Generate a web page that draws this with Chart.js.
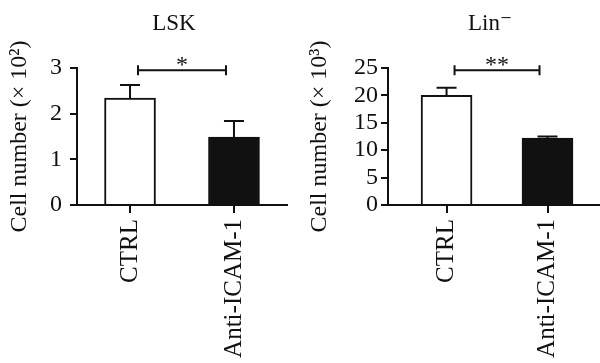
<!DOCTYPE html>
<html>
<head>
<meta charset="utf-8">
<script src="https://cdn.jsdelivr.net/npm/chart.js@4.4.1/dist/chart.umd.min.js"></script>
<style>
  html, body { margin: 0; padding: 0; background: #fff; overflow: hidden; }
  .panel { position: absolute; top: 0; width: 300px; height: 363px; }
  #left { left: 0; }
  #right { left: 300px; }
</style>
</head>
<body>
<div class="panel" id="left"><canvas id="lskChart"></canvas></div>
<div class="panel" id="right"><canvas id="linChart"></canvas></div>
<script>
const categories = ['CTRL', 'Anti-ICAM-1'];

const lskMeans = [2.34, 1.49];
const lskErrors = [0.29, 0.35];
const lskTicks = [0, 1, 2, 3];
const lskBracket = 2.95;
const lskStars = '*';

const linMeans = [20.0, 12.2];
const linErrors = [1.4, 0.3];
const linTicks = [0, 5, 10, 15, 20, 25];
const linBracket = 24.6;
const linStars = '**';

const ink = '#111';
const serif = "'Liberation Serif', 'DejaVu Serif', serif";

const isCategory = (v) => Number.isInteger(v) && v >= 0 && v < categories.length;

// error bars, significance bracket and panel title
const markers = {
    id: 'markers',
    afterDatasetsDraw(chart, args, opts) {
        const { ctx, scales: { x, y }, chartArea } = chart;
        ctx.save();
        ctx.strokeStyle = ink;
        ctx.lineWidth = 2;

        opts.means.forEach((m, i) => {
            const px = x.getPixelForValue(i);
            const y0 = y.getPixelForValue(m);
            const y1 = y.getPixelForValue(m + opts.errors[i]);
            ctx.beginPath();
            ctx.moveTo(px, y0);
            ctx.lineTo(px, y1);
            ctx.moveTo(px - 10, y1);
            ctx.lineTo(px + 10, y1);
            ctx.stroke();
        });

        const bx0 = x.getPixelForValue(0) + 8;
        const bx1 = x.getPixelForValue(1) - 8;
        const by = y.getPixelForValue(opts.bracket);
        ctx.beginPath();
        ctx.moveTo(bx0, by);
        ctx.lineTo(bx1, by);
        ctx.moveTo(bx0, by - 5);
        ctx.lineTo(bx0, by + 5);
        ctx.moveTo(bx1, by - 5);
        ctx.lineTo(bx1, by + 5);
        ctx.stroke();

        ctx.fillStyle = ink;
        ctx.textAlign = 'center';
        ctx.textBaseline = 'alphabetic';
        ctx.font = '24px ' + serif;
        ctx.fillText(opts.stars, (bx0 + bx1) / 2, by + 2);

        ctx.font = '23px ' + serif;
        ctx.textBaseline = 'middle';
        ctx.fillText(opts.title, (chartArea.left + chartArea.right) / 2 + opts.titleShift, 24);
        ctx.restore();
    }
};

const makeChart = (canvasId, means, errors, ticks, bracket, stars, title, yLabel, axisWidth, tickPad, padRight, xMin, xMax, titleShift) => {
    const data = {
        datasets: [{
            data: means.map((v, i) => ({ x: i, y: v })),
            backgroundColor: ['#ffffff', ink],
            borderColor: ink,
            borderWidth: 2,
            borderSkipped: 'bottom',
            barThickness: 51
        }]
    };

    const config = {
        type: 'bar',
        data: data,
        options: {
            responsive: true,
            maintainAspectRatio: false,
            animation: false,
            layout: { padding: { top: 68, right: padRight, left: 0, bottom: 0 } },
            plugins: {
                legend: { display: false },
                tooltip: { enabled: false },
                markers: { means, errors, bracket, stars, title, titleShift }
            },
            scales: {
                x: {
                    type: 'linear',
                    min: xMin,
                    max: xMax,
                    offset: false,
                    afterBuildTicks: (scale) => {
                        scale.ticks = categories.map((c, i) => ({ value: i }));
                    },
                    grid: {
                        display: true,
                        offset: false,
                        drawOnChartArea: false,
                        tickLength: 8,
                        color: ink,
                        lineWidth: 2
                    },
                    border: { display: true, color: ink, width: 2 },
                    ticks: {
                        color: ink,
                        font: { family: serif, size: 25 },
                        minRotation: 90,
                        maxRotation: 90,
                        autoSkip: false,
                        padding: 6,
                        callback: (value) => (isCategory(value) ? categories[value] : '')
                    },
                    afterFit: (scale) => { scale.height = 158; }
                },
                y: {
                    min: ticks[0],
                    max: ticks[ticks.length - 1],
                    grid: { display: true, drawOnChartArea: false, tickLength: 7, color: ink, lineWidth: 2 },
                    border: { display: true, color: ink, width: 2 },
                    ticks: {
                        stepSize: ticks[1] - ticks[0],
                        autoSkip: false,
                        color: ink,
                        font: { family: serif, size: 24 },
                        padding: tickPad
                    },
                    title: {
                        display: true,
                        text: yLabel,
                        color: ink,
                        font: { family: serif, size: 24 },
                        padding: { top: 5, bottom: 0 }
                    },
                    afterFit: (scale) => { scale.width = axisWidth; }
                }
            }
        },
        plugins: [markers]
    };

    new Chart(document.getElementById(canvasId), config);
};

makeChart('lskChart', lskMeans, lskErrors, lskTicks, lskBracket, lskStars, 'LSK',
    'Cell number (\u00d7 10\u00b2)', 77, 8, 13, -0.51, 1.51, -8);
makeChart('linChart', linMeans, linErrors, linTicks, linBracket, linStars, 'Lin\u207b',
    'Cell number (\u00d7 10\u00b3)', 88, 3, 0, -0.58, 1.52, -4);
</script>
</body>
</html>
